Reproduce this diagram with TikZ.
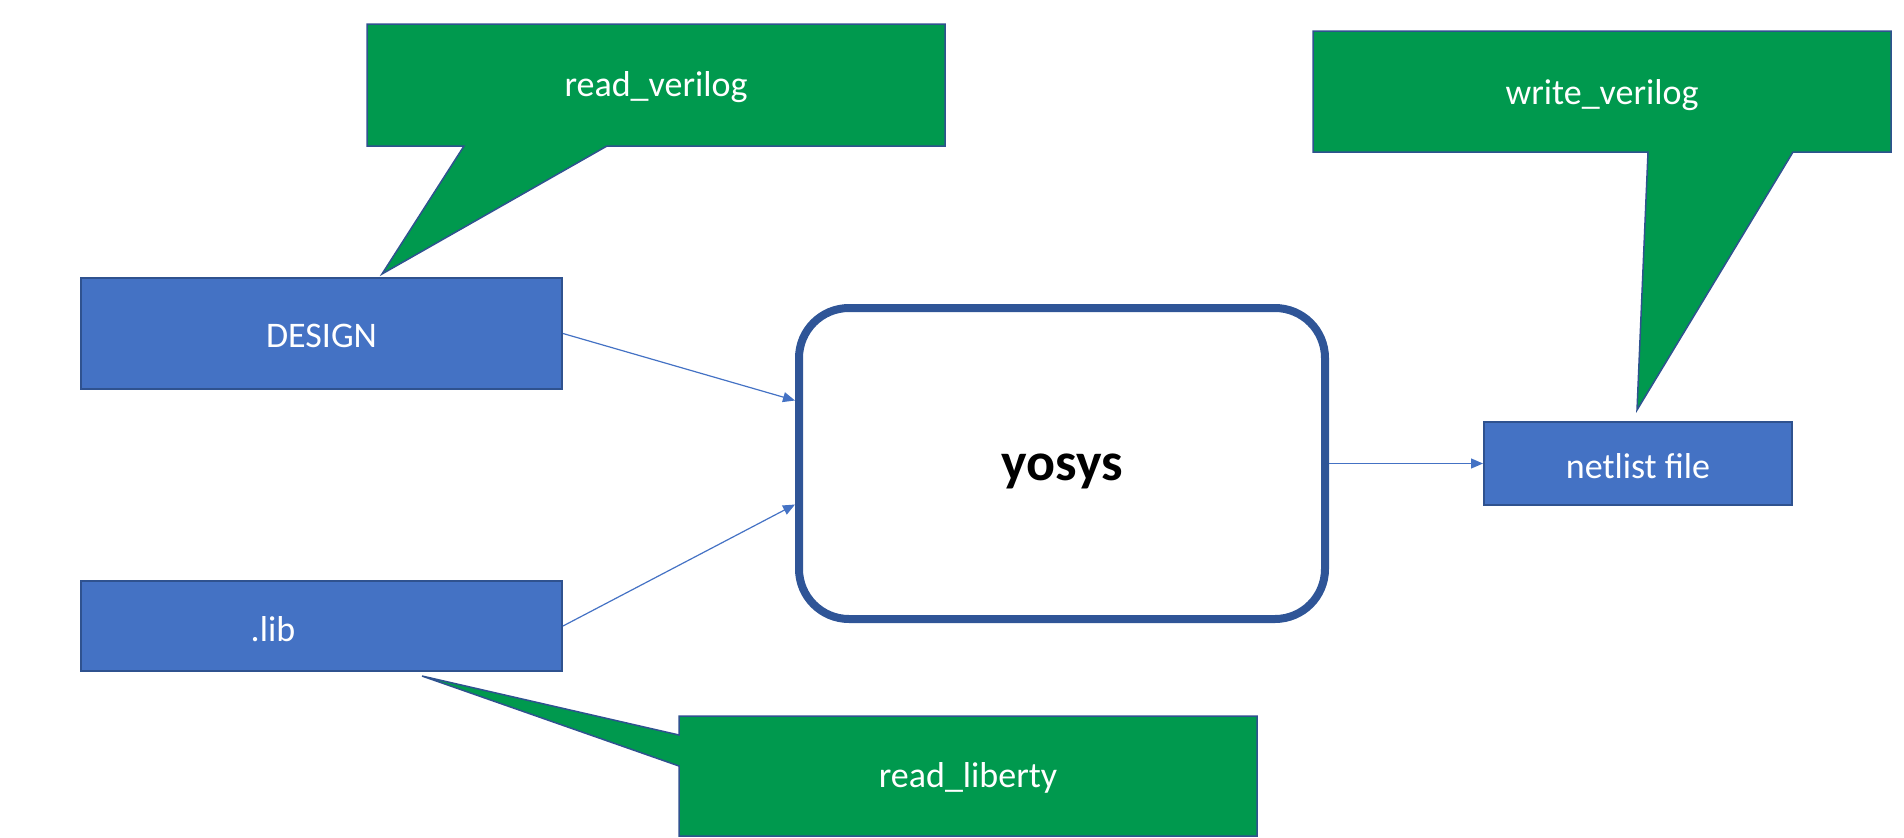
\documentclass[tikz,border=0pt]{standalone}
\usepackage{fontspec}
\setmainfont{Carlito}
\usetikzlibrary{arrows.meta}
\definecolor{boxblue}{HTML}{4472C4}
\definecolor{boxedge}{HTML}{2F528F}
\definecolor{callgreen}{HTML}{00994E}
\definecolor{yosysedge}{HTML}{2F5597}
\tikzset{
  filebox/.style={draw=boxedge, line width=2pt, fill=boxblue, text=white, inner sep=0pt,
    font=\fontsize{36}{43}\selectfont},
  callout/.style={draw=boxedge, line width=1.5pt, fill=callgreen, line join=miter},
  calltext/.style={text=white, font=\fontsize{36}{43}\selectfont},
  flow/.style={draw=boxblue, line width=1.2pt, -{Triangle[length=12pt,width=10pt]}}
}
\begin{document}
\begin{tikzpicture}[x=1pt,y=-1pt]
  \useasboundingbox (0,0) rectangle (1904,838);
  % speech bubbles
  \filldraw [callout] (367,24) -- (945,24) -- (945,146) -- (607,146) -- (382,274)
    -- (464,146) -- (367,146) -- cycle;
  \filldraw [callout] (1313,31) -- (1891,31) -- (1891,152) -- (1793,152) -- (1637,410)
    -- (1648,152) -- (1313,152) -- cycle;
  \filldraw [callout] (679,716) -- (1257,716) -- (1257,836) -- (679,836) -- (679,766)
    -- (422,676) -- (679,735) -- cycle;
  \node [calltext] (rvtext) at (656,87) {read\_verilog};
  \node [calltext] (wvtext) at (1602,95) {write\_verilog};
  \node [calltext] (rltext) at (968,778) {read\_liberty};
  % files and tool
  \node [filebox, minimum width=481pt, minimum height=111pt] (design) at (321.5,333.5) {};
  \node [calltext] (designtext) at (321.5,336) {DESIGN};
  \node [filebox, minimum width=481pt, minimum height=90pt] (lib) at (321.5,626) {};
  \node [calltext] (libtext) at (273,629) {.lib};
  \node [draw=yosysedge, line width=8pt, rounded corners=50pt, minimum width=526pt,
    minimum height=311pt] (yosys) at (1062,463.5) {};
  \node [font=\bfseries\fontsize{54}{65}\selectfont] (yosystext) at (1062,471) {yosys};
  \node [filebox, minimum width=308pt, minimum height=83pt] (netlist) at (1638,463.5) {};
  \node [calltext] (netlisttext) at (1638,466) {netlist file};
  \draw [flow] (design.east) -- ([yshift=63pt]yosys.west);
  \draw [flow] (lib.east) -- ([yshift=-41pt]yosys.west);
  \draw [flow] (yosys.east) -- (netlist.west);
\end{tikzpicture}
\end{document}
